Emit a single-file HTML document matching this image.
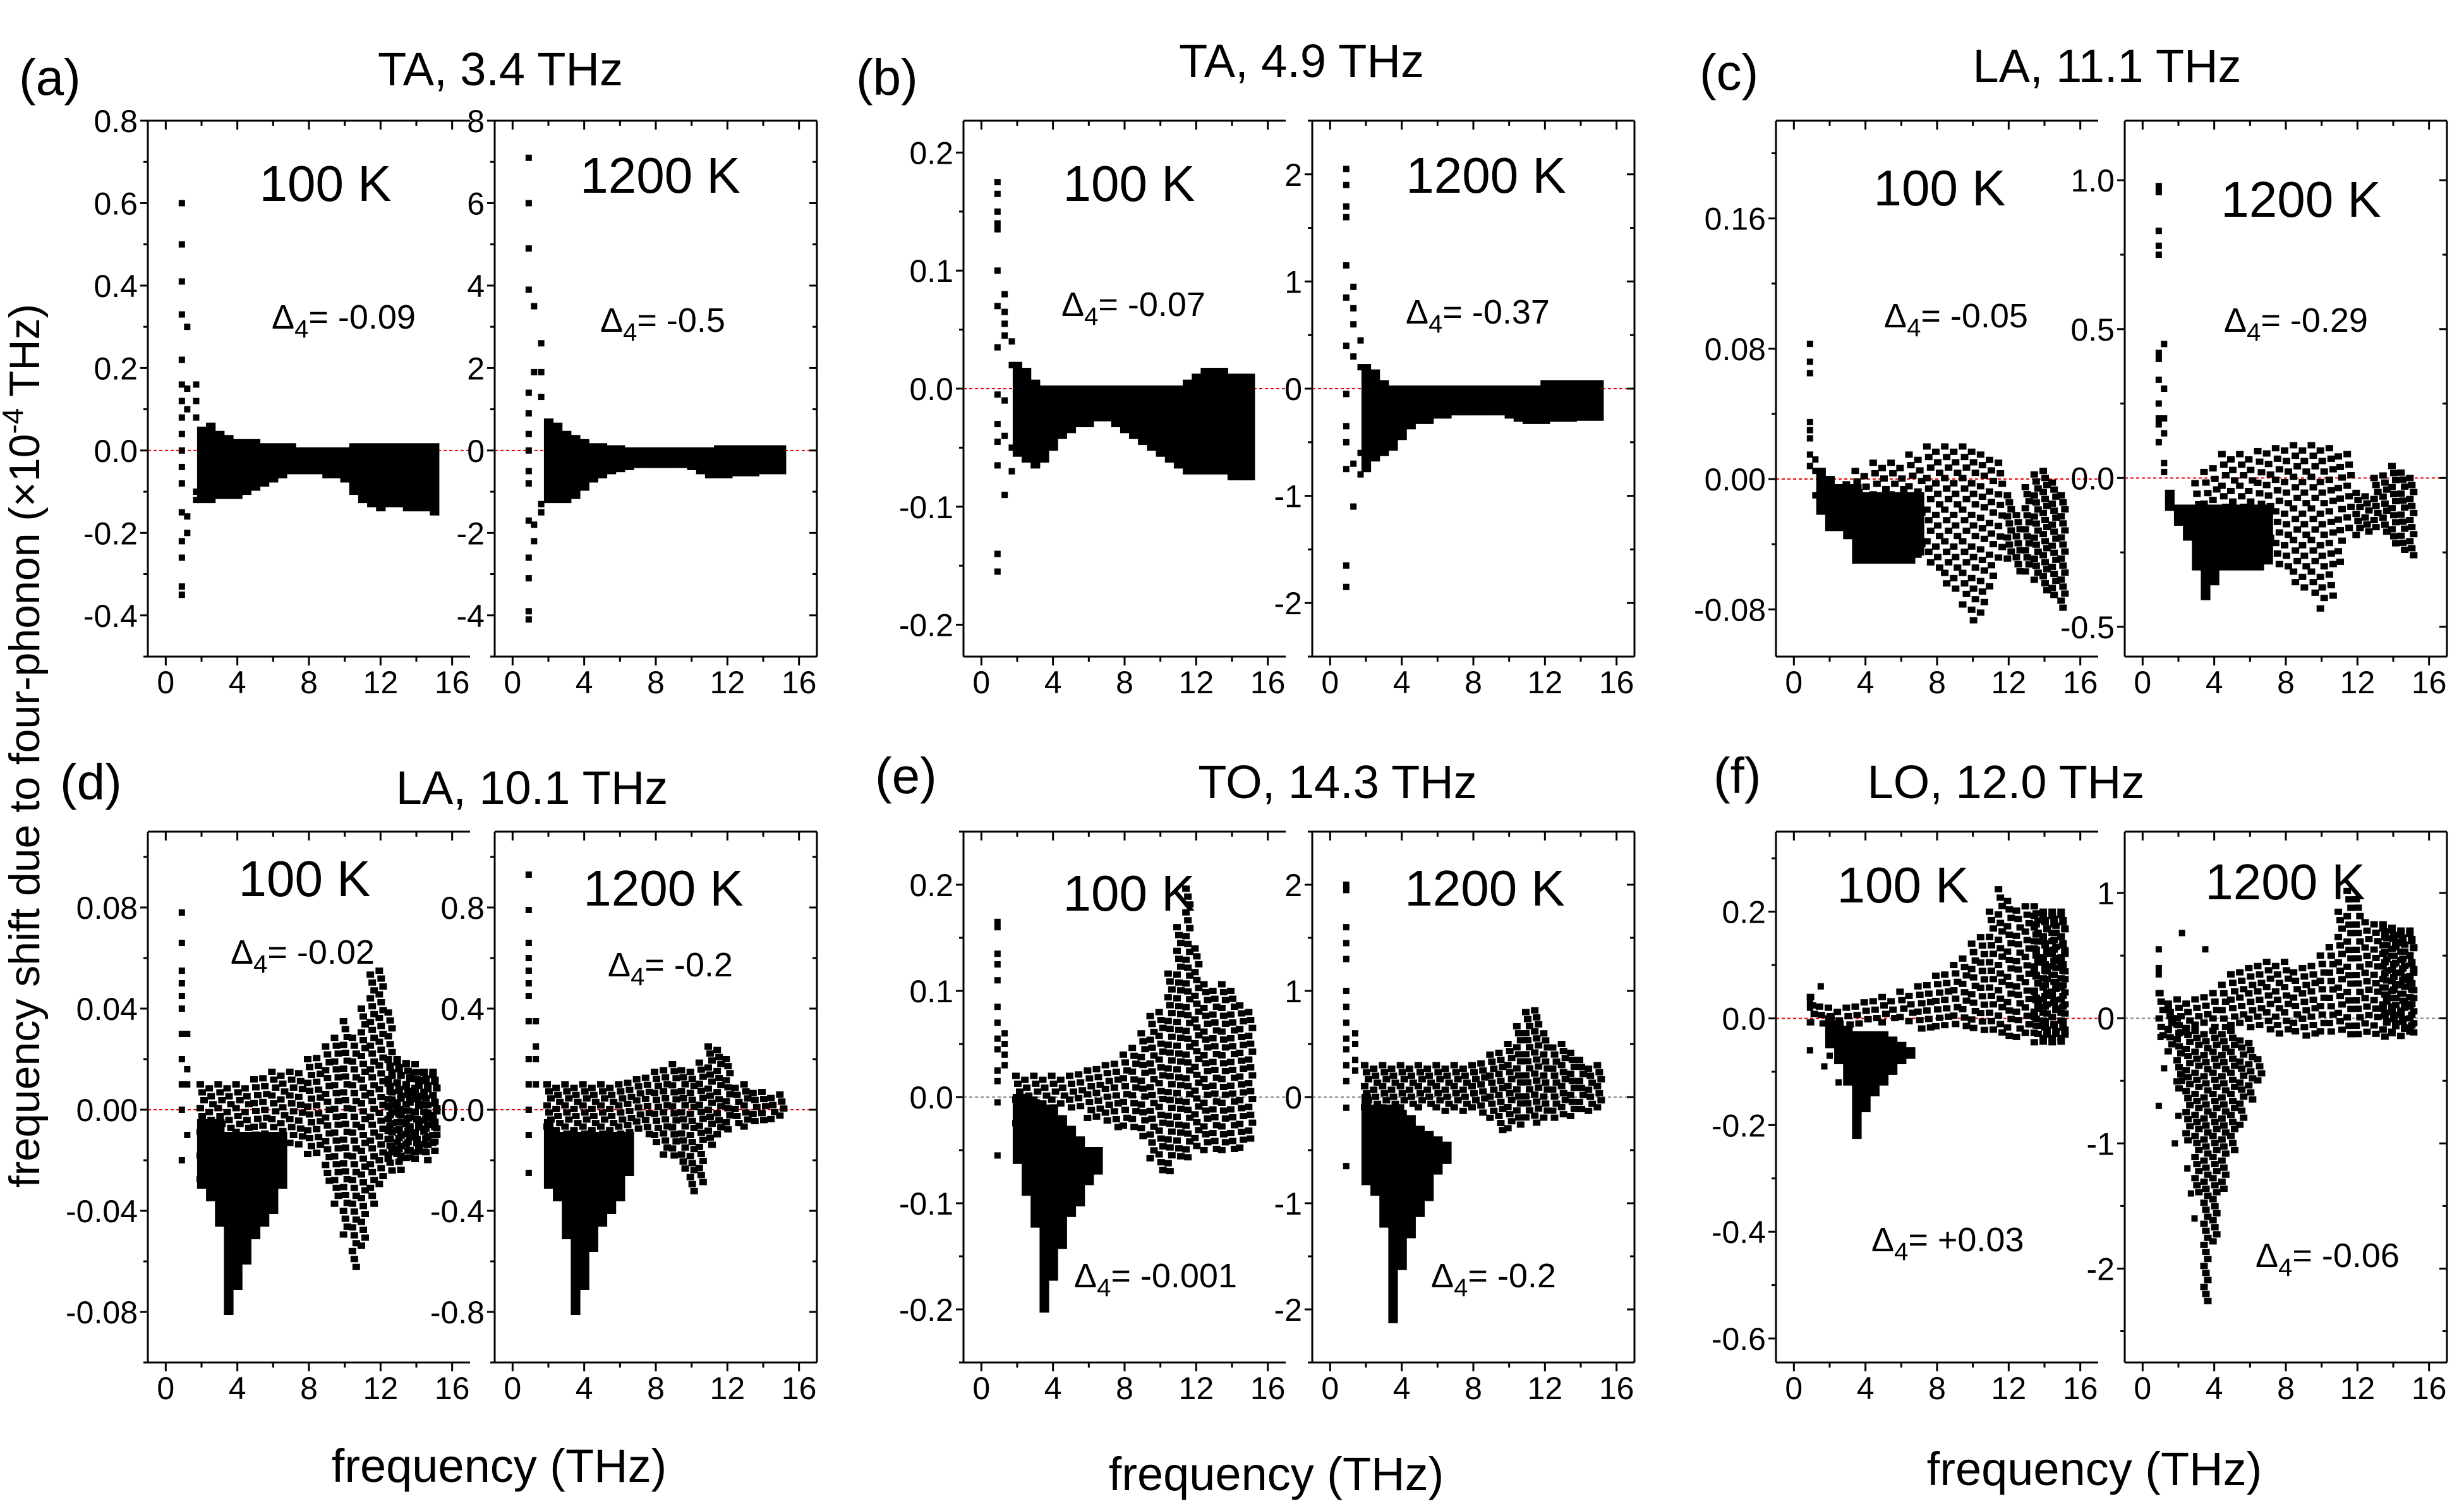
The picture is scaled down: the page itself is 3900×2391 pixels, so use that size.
<!DOCTYPE html>
<html><head><meta charset="utf-8"><title>Four-phonon frequency shift</title>
<style>
html,body{margin:0;padding:0;background:#fff;}
svg{display:block;font-family:"Liberation Sans",Arial,sans-serif;}
</style></head>
<body>
<svg id="fig" width="3900" height="2391" viewBox="0 0 3900 2391" xmlns="http://www.w3.org/2000/svg">
<rect x="0" y="0" width="3900" height="2391" fill="#fff"/>
<text transform="translate(62,1180) rotate(-90)" text-anchor="middle" font-size="68">frequency shift due to four-phonon (×10<tspan dy="-26" font-size="46">-4</tspan><tspan dy="26"> THz)</tspan></text>
<g font-size="80">
<text x="30" y="150">(a)</text>
<text x="1355" y="150">(b)</text>
<text x="2690" y="142">(c)</text>
<text x="95" y="1265">(d)</text>
<text x="1385" y="1255">(e)</text>
<text x="2712" y="1255">(f)</text>
</g>
<g font-size="74" text-anchor="middle">
<text x="792" y="135">TA, 3.4 THz</text>
<text x="2060" y="122">TA, 4.9 THz</text>
<text x="3335" y="130">LA, 11.1 THz</text>
<text x="842" y="1272">LA, 10.1 THz</text>
<text x="2117" y="1263">TO, 14.3 THz</text>
<text x="3175" y="1263">LO, 12.0 THz</text>
</g>
<g font-size="74" text-anchor="middle">
<text x="790" y="2345">frequency (THz)</text>
<text x="2020" y="2358">frequency (THz)</text>
<text x="3315" y="2350">frequency (THz)</text>
</g>
<g id="plots"></g>
</svg>
<script>
// ---------- data (x in THz, y in 1e-4 THz) ----------
const xTicks=[0,4,8,12,16];
const xMinor=[2,6,10,14];
// (a) 100 K
const a1_sx=[0.9,0.9,0.9,0.9,0.9,0.9,0.9,0.9,0.9,0.9,0.9,0.9,0.9,0.9,0.9,0.9,0.9,1.2,1.2,1.2,1.2,1.2,1.7,1.7,1.7,1.7,1.7];
const a1_sy=[0.6,0.5,0.41,0.33,0.22,0.16,0.12,0.08,0.04,0,-0.04,-0.08,-0.15,-0.22,-0.26,-0.33,-0.35,0.3,0.15,0.1,-0.16,-0.2,0.16,0.12,0.08,-0.12,-0.1];
const a1_bx=[2,2.5,3,3.5,4,4.5,5,5.5,6,6.5,7,7.5,8,8.5,9,9.5,10,10.5,11,11.5,12,12.5,13,13.5,14,14.5,15];
const a1_hi=[.05,.06,.04,.03,.02,.02,.02,.01,.01,.01,.01,0,0,0,0,0,0,.01,.01,.01,.01,.01,.01,.01,.01,.01,.01];
const a1_lo=[-.12,-.12,-.11,-.11,-.11,-.1,-.09,-.08,-.07,-.06,-.05,-.05,-.05,-.05,-.06,-.06,-.07,-.1,-.12,-.13,-.14,-.13,-.13,-.14,-.14,-.14,-.15];
// (a) 1200 K
const a2_sx=[0.9,0.9,0.9,0.9,0.9,0.9,0.9,0.9,0.9,0.9,0.9,0.9,0.9,0.9,0.9,1.2,1.2,1.2,1.2,1.6,1.6,1.6,1.6,1.6];
const a2_sy=[7.1,6,4.9,3.9,1.4,0.9,0.4,0,-0.5,-0.8,-1.7,-2.6,-3.1,-3.9,-4.1,3.5,1.9,-1.8,-2.2,2.6,1.9,1.3,-1.3,-1.5];
const a2_bx=[2,2.5,3,3.5,4,4.5,5,5.5,6,6.5,7,7.5,8,8.5,9,9.5,10,10.5,11,11.5,12,12.5,13,13.5,14,14.5,15];
const a2_hi=[.7,.6,.4,.3,.2,.1,.1,.05,.05,0,0,0,0,0,0,0,0,0,0,.05,.05,.05,.05,.05,.05,.05,.05];
const a2_lo=[-1.2,-1.2,-1.2,-1.1,-.9,-.7,-.6,-.5,-.45,-.4,-.35,-.35,-.35,-.35,-.35,-.35,-.4,-.5,-.6,-.6,-.6,-.55,-.55,-.55,-.5,-.5,-.5];
// (b) 100 K
const b1_sx=[0.9,0.9,0.9,0.9,0.9,0.9,0.9,0.9,0.9,0.9,0.9,0.9,0.9,0.9,1.3,1.3,1.3,1.3,1.3,1.3,1.3,1.7,1.7,1.7,1.7];
const b1_sy=[.175,.165,.15,.14,.135,.10,.07,.035,-.005,-.03,-.045,-.065,-.14,-.155,.08,.065,.055,.045,-.01,-.04,-.09,.04,.02,-.05,-.07];
const b1_bx=[2,2.5,3,3.5,4,4.5,5,5.5,6,6.5,7,7.5,8,8.5,9,9.5,10,10.5,11,11.5,12,12.5,13,13.5,14,14.5,15];
const b1_hi=[.02,.015,.005,0,0,0,0,0,0,0,0,0,0,0,0,0,0,0,0,.005,.01,.015,.015,.015,.01,.01,.01];
const b1_lo=[-.055,-.06,-.065,-.06,-.05,-.04,-.035,-.03,-.03,-.025,-.025,-.03,-.035,-.04,-.045,-.05,-.055,-.06,-.065,-.07,-.07,-.07,-.07,-.07,-.075,-.075,-.075];
// (b) 1200 K
const b2_sx=[0.9,0.9,0.9,0.9,0.9,0.9,0.9,0.9,0.9,0.9,0.9,0.9,0.9,1.3,1.3,1.3,1.3,1.3,1.3,1.7,1.7,1.7,1.7];
const b2_sy=[2.05,1.9,1.7,1.6,1.15,0.85,0.4,-0.05,-0.35,-0.5,-0.75,-1.65,-1.85,.95,.75,.6,.3,-0.7,-1.1,.45,.2,-.6,-.8];
const b2_bx=[2,2.5,3,3.5,4,4.5,5,5.5,6,6.5,7,7.5,8,8.5,9,9.5,10,10.5,11,11.5,12,12.5,13,13.5,14,14.5,15];
const b2_hi=[.2,.15,.05,0,0,0,0,0,0,0,0,0,0,0,0,0,0,0,0,0,.05,.05,.05,.05,.05,.05,.05];
const b2_lo=[-.75,-.65,-.6,-.55,-.45,-.35,-.3,-.3,-.25,-.25,-.22,-.22,-.22,-.22,-.22,-.22,-.25,-.28,-.3,-.3,-.3,-.28,-.28,-.28,-.27,-.27,-.27];
// (c) 100 K
const c1_sx=[0.9,0.9,0.9,0.9,0.9,0.9,0.9,0.9,1.2,1.2,1.2];
const c1_sy=[.083,.072,.065,.035,.03,.025,.015,.008,.012,.005,-.01];
const c1_ax=[1.5,2,2.5,3,3.5,4,4.5,5,5.5,6,6.5,7];
const c1_ahi=[.005,0,-.005,-.005,-.005,-.01,-.01,-.01,-.01,-.01,-.01,-.01];
const c1_alo=[-.02,-.03,-.03,-.035,-.05,-.05,-.05,-.05,-.05,-.05,-.05,-.045];
const c1_bx=[3,3.5,4,4.5,5,5.5,6,6.5,7,7.5,8,8.5,9,9.5,10,10.5,11,11.5];
const c1_bhi=[0,.005,.005,.01,.01,.01,.01,.015,.015,.02,.02,.02,.02,.02,.02,.015,.015,.01];
const c1_blo=[-.02,-.025,-.03,-.035,-.035,-.04,-.045,-.05,-.05,-.055,-.06,-.065,-.07,-.08,-.09,-.085,-.07,-.05];
const c1_cx=[12,12.5,13,13.5,14,14.5,15];
const c1_chi=[-.01,-.02,-.005,.005,.005,0,-.01];
const c1_clo=[-.05,-.06,-.06,-.065,-.07,-.075,-.08];
// (c) 1200 K
const c2_sx=[0.9,0.9,0.9,0.9,0.9,0.9,0.9,0.9,0.9,0.9,0.9,0.9,1.2,1.2,1.2,1.2,1.2,1.2];
const c2_sy=[.98,.96,.83,.78,.75,.42,.40,.33,.25,.2,.18,.12,.45,.3,.2,.15,.05,.02];
const c2_ax=[1.5,2,2.5,3,3.5,4,4.5,5,5.5,6,6.5,7];
const c2_ahi=[-.05,-.1,-.1,-.1,-.1,-.1,-.1,-.1,-.1,-.1,-.1,-.1];
const c2_alo=[-.1,-.15,-.2,-.3,-.4,-.35,-.3,-.3,-.3,-.3,-.3,-.28];
const c2_bx=[3,3.5,4,4.5,5,5.5,6,6.5,7,7.5,8,8.5,9,9.5,10,10.5,11,11.5];
const c2_bhi=[0,.02,.05,.08,.08,.08,.08,.09,.1,.1,.11,.11,.11,.11,.11,.1,.09,.08];
const c2_blo=[-.1,-.12,-.15,-.18,-.2,-.22,-.25,-.25,-.28,-.3,-.32,-.35,-.38,-.42,-.45,-.4,-.3,-.2];
const c2_cx=[12,12.5,13,13.5,14,14.5,15];
const c2_chi=[-.05,-.05,0,.02,.04,.03,0];
const c2_clo=[-.2,-.2,-.18,-.2,-.22,-.25,-.27];
// (d) 100 K
const d1_sx=[0.9,0.9,0.9,0.9,0.9,0.9,0.9,0.9,0.9,0.9,0.9,1.2,1.2,1.2,1.2];
const d1_sy=[.078,.066,.055,.05,.045,.04,.03,.02,.01,0,-.02,.03,.016,.01,-.01];
const d1_ax=[2,2.5,3,3.5,4,4.5,5,5.5,6,6.5];
const d1_ahi=[-.005,-.005,-.005,-.01,-.01,-.01,-.01,-.01,-.01,-.01];
const d1_alo=[-.03,-.035,-.045,-.08,-.07,-.06,-.05,-.045,-.04,-.03];
const d1_bx=[2,2.5,3,3.5,4,4.5,5,5.5,6,6.5,7,7.5,8,8.5,9,9.5,10,10.5,11,11.5,12,12.5,13,13.5,14,14.5,15];
const d1_bhi=[.01,.01,.01,.01,.01,.01,.012,.014,.015,.015,.015,.016,.02,.022,.025,.03,.035,.03,.04,.055,.055,.04,.02,.02,.018,.016,.015];
const d1_blo=[-.03,-.03,-.01,-.01,-.01,-.01,-.01,-.01,-.01,-.01,-.015,-.015,-.02,-.02,-.03,-.04,-.05,-.065,-.055,-.04,-.03,-.025,-.025,-.02,-.02,-.02,-.018];
const d1_cx=[12.5,13,13.5,14,14.5,15];
const d1_chi=[.02,.02,.018,.016,.015,.015];
const d1_clo=[-.02,-.02,-.02,-.018,-.018,-.015];
// (d) 1200 K
const d2_sx=[0.9,0.9,0.9,0.9,0.9,0.9,0.9,0.9,0.9,0.9,0.9,0.9,0.9,1.3,1.3,1.3,1.3];
const d2_sy=[.93,.79,.66,.6,.55,.5,.45,.35,.2,.1,0,-.1,-.25,.35,.25,.2,.1];
const d2_ax=[2,2.5,3,3.5,4,4.5,5,5.5,6,6.5];
const d2_ahi=[-.05,-.1,-.1,-.1,-.1,-.1,-.1,-.1,-.1,-.1];
const d2_alo=[-.3,-.35,-.5,-.8,-.7,-.55,-.45,-.4,-.35,-.25];
const d2_bx=[2,2.5,3,3.5,4,4.5,5,5.5,6,6.5,7,7.5,8,8.5,9,9.5,10,10.5,11,11.5,12,12.5,13,13.5,14,14.5,15];
const d2_bhi=[.1,.1,.1,.1,.1,.1,.1,.1,.1,.12,.12,.14,.15,.17,.18,.17,.15,.2,.25,.25,.2,.1,.1,.08,.07,.06,.06];
const d2_blo=[-.1,-.1,-.1,-.1,-.1,-.1,-.1,-.1,-.1,-.1,-.1,-.12,-.15,-.18,-.2,-.25,-.33,-.3,-.15,-.1,-.1,-.08,-.07,-.06,-.05,-.05,-.05];
// (e) 100 K
const e1_sx=[0.9,0.9,0.9,0.9,0.9,0.9,0.9,0.9,0.9,0.9,0.9,0.9,0.9,1.3,1.3,1.3,1.3];
const e1_sy=[.165,.16,.135,.125,.11,.085,.07,.055,.045,.025,.015,-.005,-.055,.06,.05,.04,.03];
const e1_ax=[2,2.5,3,3.5,4,4.5,5,5.5,6,6.5];
const e1_ahi=[0,0,-.005,-.01,-.01,-.02,-.03,-.04,-.05,-.05];
const e1_alo=[-.06,-.09,-.12,-.2,-.17,-.14,-.11,-.1,-.08,-.07];
const e1_bx=[2,2.5,3,3.5,4,4.5,5,5.5,6,6.5,7,7.5,8,8.5,9,9.5,10,10.5,11,11.5,12,12.5,13,13.5,14,14.5,15];
const e1_bhi=[.02,.02,.02,.02,.02,.02,.02,.025,.025,.03,.03,.035,.04,.05,.06,.08,.08,.12,.16,.2,.14,.11,.1,.11,.1,.09,.08];
const e1_blo=[-.03,-.03,-.03,-.03,-.01,-.01,-.01,-.015,-.02,-.025,-.025,-.03,-.03,-.035,-.04,-.06,-.07,-.07,-.06,-.06,-.05,-.05,-.05,-.05,-.05,-.05,-.04];
// (e) 1200 K
const e2_sx=[0.9,0.9,0.9,0.9,0.9,0.9,0.9,0.9,0.9,0.9,0.9,0.9,0.9,0.9,1.4,1.4,1.4,1.4];
const e2_sy=[2.0,1.95,1.6,1.45,1.3,1.0,.85,.7,.55,.45,.3,.15,-.1,-.65,.6,.5,.35,.25];
const e2_ax=[2,2.5,3,3.5,4,4.5,5,5.5,6,6.5];
const e2_ahi=[0,-.1,-.1,-.1,-.15,-.2,-.3,-.35,-.4,-.45];
const e2_alo=[-.8,-.9,-1.2,-2.1,-1.6,-1.3,-1.1,-.95,-.7,-.6];
const e2_bx=[2,2.5,3,3.5,4,4.5,5,5.5,6,6.5,7,7.5,8,8.5,9,9.5,10,10.5,11,11.5,12,12.5,13,13.5,14,14.5,15];
const e2_bhi=[.3,.3,.3,.3,.3,.3,.3,.3,.3,.3,.3,.3,.3,.35,.4,.45,.5,.7,.8,.85,.6,.5,.5,.45,.35,.3,.3];
const e2_blo=[-.2,-.2,-.2,-.15,-.1,-.1,-.1,-.1,-.15,-.15,-.15,-.15,-.15,-.2,-.25,-.35,-.35,-.3,-.25,-.25,-.2,-.2,-.2,-.2,-.15,-.15,-.12];
// (f) 100 K
const f1_sx=[0.9,0.9,0.9,0.9,1.5,2,1.7,2.5];
const f1_sy=[.04,.03,.02,-.06,.06,-.07,-.09,-.12];
const f1_ax=[2,2.5,3,3.5,4,4.5,5,5.5,6,6.5];
const f1_ahi=[0,-.01,-.02,-.03,-.03,-.03,-.03,-.04,-.05,-.06];
const f1_alo=[-.05,-.08,-.12,-.22,-.17,-.14,-.12,-.1,-.08,-.07];
const f1_bx=[1,1.5,2,2.5,3,3.5,4,4.5,5,5.5,6,6.5,7,7.5,8,8.5,9,9.5,10,10.5,11,11.5,12,12.5,13,13.5,14,14.5,15];
const f1_bhi=[.04,.03,.02,.02,.02,.03,.03,.04,.04,.04,.05,.05,.06,.07,.08,.09,.1,.12,.14,.16,.2,.25,.22,.21,.21,.2,.2,.2,.2];
const f1_blo=[-.02,-.02,-.02,-.02,-.02,-.02,-.01,-.01,-.01,-.01,-.01,-.02,-.02,-.02,-.02,-.02,-.02,-.03,-.03,-.03,-.03,-.03,-.04,-.04,-.04,-.05,-.05,-.05,-.05];
const f1_cx=[13.5,14,14.5,15];
const f1_chi=[.21,.2,.2,.2];
const f1_clo=[-.04,-.05,-.05,-.05];
// (f) 1200 K
const f2_sx=[0.9,0.9,0.9,0.9,1,1,2.2,3.5,2.0,1.8,2.5,2.7,2.9,1.2,2.2];
const f2_sy=[.55,.4,.35,-.7,-.15,.2,.68,.55,-.78,-1.0,-1.2,-1.4,-1.6,-.4,-.5];
const f2_ax=[1.5,2,2.5,3,3.5,4,4.5,5,5.5,6,6.5];
const f2_ahi=[.1,0,-.05,-.1,-.1,-.1,-.1,-.1,-.15,-.2,-.3];
const f2_alo=[-.3,-.6,-1,-1.4,-2.3,-1.8,-1.4,-1.1,-.9,-.7,-.55];
const f2_bx=[1,1.5,2,2.5,3,3.5,4,4.5,5,5.5,6,6.5,7,7.5,8,8.5,9,9.5,10,10.5,11,11.5,12,12.5,13,13.5,14,14.5,15];
const f2_bhi=[.2,.15,.15,.15,.15,.2,.2,.3,.35,.4,.4,.45,.45,.45,.45,.4,.4,.45,.5,.6,.85,1.05,.95,.8,.75,.75,.7,.7,.7];
const f2_blo=[-.2,-.15,-.15,-.1,-.1,-.1,-.1,-.1,-.1,-.1,-.1,-.12,-.12,-.13,-.14,-.15,-.15,-.15,-.15,-.15,-.15,-.15,-.15,-.15,-.15,-.15,-.15,-.15,-.15];
const f2_cx=[13.5,14,14.5,15];
const f2_chi=[.75,.75,.7,.7];
const f2_clo=[-.15,-.15,-.15,-.15];
// tick labels
const a1_ticks=[-0.4,-0.2,0,0.2,0.4,0.6,0.8], a1_labels=["-0.4","-0.2","0.0","0.2","0.4","0.6","0.8"];
const a2_ticks=[-4,-2,0,2,4,6,8], a2_labels=["-4","-2","0","2","4","6","8"];
const b1_ticks=[-0.2,-0.1,0,0.1,0.2], b1_labels=["-0.2","-0.1","0.0","0.1","0.2"];
const b2_ticks=[-2,-1,0,1,2], b2_labels=["-2","-1","0","1","2"];
const c1_ticks=[-0.08,0,0.08,0.16], c1_labels=["-0.08","0.00","0.08","0.16"];
const c2_ticks=[-0.5,0,0.5,1.0], c2_labels=["-0.5","0.0","0.5","1.0"];
const d1_ticks=[-0.08,-0.04,0,0.04,0.08], d1_labels=["-0.08","-0.04","0.00","0.04","0.08"];
const d2_ticks=[-0.8,-0.4,0,0.4,0.8], d2_labels=["-0.8","-0.4","0.0","0.4","0.8"];
const e1_ticks=[-0.2,-0.1,0,0.1,0.2], e1_labels=["-0.2","-0.1","0.0","0.1","0.2"];
const e2_ticks=[-2,-1,0,1,2], e2_labels=["-2","-1","0","1","2"];
const f1_ticks=[-0.6,-0.4,-0.2,0,0.2], f1_labels=["-0.6","-0.4","-0.2","0.0","0.2"];
const f2_ticks=[-2,-1,0,1], f2_labels=["-2","-1","0","1"];

// ---------- layout ----------
const NS="http://www.w3.org/2000/svg";
const root=document.getElementById('plots');
function el(tag,attrs,parent){const e=document.createElementNS(NS,tag);for(const k in attrs)e.setAttribute(k,attrs[k]);(parent||root).appendChild(e);return e;}

const TOP=[191,848], BOT=[1316,840];
const panels=[
 {id:'a-100k',x0:234,row:TOP,yr:[-0.5,0.8],minor:0.1,ticks:a1_ticks,labels:a1_labels,sx:a1_sx,sy:a1_sy,bands:[[a1_bx,a1_lo,a1_hi,1]],temp:'100 K',tp:[515,318],dl:'-0.09',dp:[430,520],right:false,zc:'#e00'},
 {id:'a-1200k',x0:783,row:TOP,yr:[-5,8],minor:1,ticks:a2_ticks,labels:a2_labels,sx:a2_sx,sy:a2_sy,bands:[[a2_bx,a2_lo,a2_hi,1]],temp:'1200 K',tp:[1045,305],dl:'-0.5',dp:[950,525],right:true,zc:'#e00'},
 {id:'b-100k',x0:1525,row:TOP,yr:[-0.227,0.227],minor:0.05,ticks:b1_ticks,labels:b1_labels,sx:b1_sx,sy:b1_sy,bands:[[b1_bx,b1_lo,b1_hi,1]],temp:'100 K',tp:[1787,318],dl:'-0.07',dp:[1680,500],right:false,zc:'#e00'},
 {id:'b-1200k',x0:2077,row:TOP,yr:[-2.5,2.5],minor:0.5,ticks:b2_ticks,labels:b2_labels,sx:b2_sx,sy:b2_sy,bands:[[b2_bx,b2_lo,b2_hi,1]],temp:'1200 K',tp:[2352,305],dl:'-0.37',dp:[2225,512],right:true,zc:'#e00'},
 {id:'c-100k',x0:2811,row:TOP,yr:[-0.109,0.22],minor:0.04,ticks:c1_ticks,labels:c1_labels,sx:c1_sx,sy:c1_sy,bands:[[c1_ax,c1_alo,c1_ahi,1],[c1_bx,c1_blo,c1_bhi,0.6],[c1_cx,c1_clo,c1_chi,0.9]],temp:'100 K',tp:[3070,325],dl:'-0.05',dp:[2982,518],right:false,zc:'#e00'},
 {id:'c-1200k',x0:3363,row:TOP,yr:[-0.6,1.2],minor:0.25,ticks:c2_ticks,labels:c2_labels,sx:c2_sx,sy:c2_sy,bands:[[c2_ax,c2_alo,c2_ahi,1],[c2_bx,c2_blo,c2_bhi,0.6],[c2_cx,c2_clo,c2_chi,0.9]],temp:'1200 K',tp:[3642,343],dl:'-0.29',dp:[3520,525],right:true,zc:'#e00'},
 {id:'d-100k',x0:234,row:BOT,yr:[-0.1,0.11],minor:0.02,ticks:d1_ticks,labels:d1_labels,sx:d1_sx,sy:d1_sy,bands:[[d1_bx,d1_blo,d1_bhi,0.8],[d1_ax,d1_alo,d1_ahi,1],[d1_cx,d1_clo,d1_chi,0.95]],temp:'100 K',tp:[482,1418],dl:'-0.02',dp:[365,1525],right:false,zc:'#e00'},
 {id:'d-1200k',x0:783,row:BOT,yr:[-1,1.1],minor:0.2,ticks:d2_ticks,labels:d2_labels,sx:d2_sx,sy:d2_sy,bands:[[d2_bx,d2_blo,d2_bhi,0.9],[d2_ax,d2_alo,d2_ahi,1]],temp:'1200 K',tp:[1050,1433],dl:'-0.2',dp:[962,1545],right:true,zc:'#e00'},
 {id:'e-100k',x0:1525,row:BOT,yr:[-0.25,0.25],minor:0.05,ticks:e1_ticks,labels:e1_labels,sx:e1_sx,sy:e1_sy,bands:[[e1_bx,e1_blo,e1_bhi,0.8],[e1_ax,e1_alo,e1_ahi,1]],temp:'100 K',tp:[1787,1441],dl:'-0.001',dp:[1700,2037],right:false,zc:'#888'},
 {id:'e-1200k',x0:2077,row:BOT,yr:[-2.5,2.5],minor:0.5,ticks:e2_ticks,labels:e2_labels,sx:e2_sx,sy:e2_sy,bands:[[e2_bx,e2_blo,e2_bhi,0.9],[e2_ax,e2_alo,e2_ahi,1]],temp:'1200 K',tp:[2350,1433],dl:'-0.2',dp:[2265,2037],right:true,zc:'#888'},
 {id:'f-100k',x0:2811,row:BOT,yr:[-0.645,0.35],minor:0.1,ticks:f1_ticks,labels:f1_labels,sx:f1_sx,sy:f1_sy,bands:[[f1_bx,f1_blo,f1_bhi,0.75],[f1_ax,f1_alo,f1_ahi,1],[f1_cx,f1_clo,f1_chi,0.9]],temp:'100 K',tp:[3012,1428],dl:'+0.03',dp:[2962,1980],right:false,zc:'#e00'},
 {id:'f-1200k',x0:3363,row:BOT,yr:[-2.75,1.49],minor:0.5,ticks:f2_ticks,labels:f2_labels,sx:f2_sx,sy:f2_sy,bands:[[f2_bx,f2_blo,f2_bhi,0.75],[f2_ax,f2_alo,f2_ahi,0.9],[f2_cx,f2_clo,f2_chi,0.9]],temp:'1200 K',tp:[3617,1423],dl:'-0.06',dp:[3570,2005],right:true,zc:'#888'}
];

const W=510, XR=[-1,17], MS=10;
panels.forEach(p=>{
  const y0=p.row[0], H=p.row[1], x0=p.x0;
  const X=v=>x0+(v-XR[0])/(XR[1]-XR[0])*W;
  const Y=v=>y0+(p.yr[1]-v)/(p.yr[1]-p.yr[0])*H;
  const g=el('g',{});
  
  
  const z=el('line',{x1:x0,x2:x0+W,y1:Y(0),y2:Y(0),stroke:p.zc,'stroke-width':2,'stroke-dasharray':'5 4'},g);
  
  
  const data=el('g',{},g);
  
  
  const colW=X(0.5)-X(0);
  p.bands.forEach((b,bi)=>{
    const bx=b[0],lo=b[1],hi=b[2],d=b[3];
    for(let i=0;i<bx.length;i++){
      const cx=X(bx[i]), yt=Y(hi[i]), yb=Y(lo[i]);
      if(d>=1){
        const r=el('rect',{x:cx-colW/2,y:yt-MS/2,width:colW+1,height:yb-yt+MS,fill:'#000'},data);
        
        
      } else {
        const step=MS/d; let k=0;
        for(let y=yt+((i+bi)%2)*step/2; y<=yb; y+=step,k++){
          const r=el('rect',{x:cx-MS/2+((k%3)-1)*3,y:y-MS/2,width:MS+2,height:MS,fill:'#000'},data);
          
          
        }
      }
    }
  });
  for(let i=0;i<p.sx.length;i++){
    const r=el('rect',{x:X(p.sx[i])-MS/2,y:Y(p.sy[i])-MS/2,width:MS,height:MS,fill:'#000'},data);
    
    
  }
  const ax=el('g',{stroke:'#000','stroke-width':3,fill:'none'},g);
  
  
  el('line',{x1:x0,y1:y0,x2:x0,y2:y0+H},ax);
  el('line',{x1:x0,y1:y0+H,x2:x0+W,y2:y0+H},ax);
  el('line',{x1:x0,y1:y0,x2:x0+W,y2:y0},ax);
  if(p.right) el('line',{x1:x0+W,y1:y0,x2:x0+W,y2:y0+H},ax);
  xTicks.forEach(t=>{const x=X(t);el('line',{x1:x,x2:x,y1:y0+H,y2:y0+H+14},ax);el('line',{x1:x,x2:x,y1:y0,y2:y0+14},ax);});
  xMinor.forEach(t=>{const x=X(t);el('line',{x1:x,x2:x,y1:y0+H,y2:y0+H+8},ax);el('line',{x1:x,x2:x,y1:y0,y2:y0+8},ax);});
  const eps=1e-9;
  for(let v=Math.ceil(p.yr[0]/p.minor-eps)*p.minor; v<=p.yr[1]+eps; v+=p.minor){
    const major=p.ticks.some(t=>Math.abs(t-v)<p.minor*0.01);
    const y=Y(v), L=major?12:7;
    el('line',{x1:x0,x2:x0-L,y1:y,y2:y},ax);
    if(p.right) el('line',{x1:x0+W,x2:x0+W-L,y1:y,y2:y},ax);
  }
  const tl=el('g',{'font-size':50,fill:'#000'},g);
  
  
  p.ticks.forEach((t,i)=>{const e=el('text',{x:x0-16,y:Y(t)+18,'text-anchor':'end'},tl);e.textContent=p.labels[i];});
  xTicks.forEach(t=>{const e=el('text',{x:X(t),y:y0+H+58,'text-anchor':'middle'},tl);e.textContent=String(t);});
  const tt=el('text',{x:p.tp[0],y:p.tp[1],'text-anchor':'middle','font-size':80},g);
  
  
  tt.textContent=p.temp;
  const dt=el('text',{x:p.dp[0],y:p.dp[1],'font-size':54},g);
  
  
  const t1=el('tspan',{},dt);t1.textContent='Δ';
  const t2=el('tspan',{dy:14,'font-size':40},dt);t2.textContent='4';
  const t3=el('tspan',{dy:-14},dt);t3.textContent='= '+p.dl;
});
</script>
</body></html>
